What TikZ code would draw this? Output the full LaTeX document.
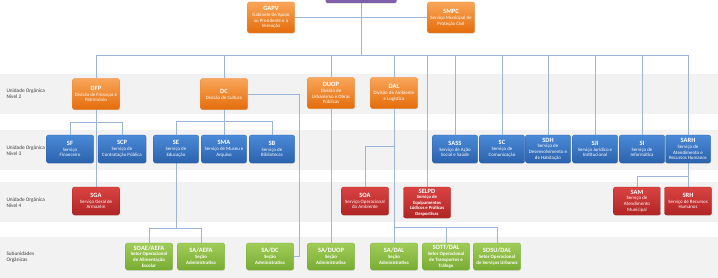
\documentclass[tikz,border=0pt]{standalone}
\usepackage{fontspec}
\setmainfont{Carlito}
\usetikzlibrary{backgrounds,shadows}
\definecolor{laranjaA}{HTML}{F9A65A}
\definecolor{laranjaB}{HTML}{E46C0A}
\definecolor{azulA}{HTML}{4A8AD8}
\definecolor{azulB}{HTML}{2B62AC}
\definecolor{vermA}{HTML}{DA4342}
\definecolor{vermB}{HTML}{B02525}
\definecolor{verdeA}{HTML}{A0CC58}
\definecolor{verdeB}{HTML}{79AC33}
\definecolor{roxo}{HTML}{7F5FA8}
\definecolor{ligacao}{HTML}{9BB5D8}
\definecolor{faixa}{HTML}{F2F2F2}
\definecolor{rotulo}{HTML}{404040}
\newcommand{\sigla}[1]{{\fontsize{6.5}{7.5}\selectfont\bfseries #1}}

\begin{document}
\begin{tikzpicture}[x=1pt,y=-1pt,
  every node/.style={font=\fontsize{4.9}{5.8}\selectfont, text=white},
  uo/.style={rounded corners=2pt, minimum width=47pt, minimum height=28pt, align=center, inner sep=1pt,
    drop shadow={opacity=0.25, shadow xshift=0.5pt, shadow yshift=-0.7pt}},
  div/.style={uo, minimum height=31pt, top color=laranjaA, bottom color=laranjaB, draw=laranjaB!80, line width=0.3pt},
  serv/.style={uo, minimum width=45pt, top color=azulA, bottom color=azulB, draw=azulB, line width=0.3pt},
  niv4/.style={uo, top color=vermA, bottom color=vermB, draw=vermB, line width=0.3pt},
  sub/.style={uo, minimum height=27pt, top color=verdeA, bottom color=verdeB, draw=verdeB, line width=0.3pt, font=\fontsize{4.9}{5.8}\selectfont\bfseries},
  lig/.style={draw=ligacao, line width=0.8pt},
  nivel/.style={text=rotulo, anchor=west, align=left, font=\fontsize{5.3}{6.3}\selectfont},
]
  \useasboundingbox (0,0) rectangle (718,278);

  \node[uo, fill=roxo, minimum width=71pt, minimum height=26pt] (pres) at (361,-10) {};
  \node[div] (GAPV) at (271,17.5) {\sigla{GAPV}\\Gabinete de Apoio\\ao Presidente e à\\Vereação};
  \node[div] (SMPC) at (451,17.5) {\sigla{SMPC}\\Serviço Municipal de\\Proteção Civil};

  \node[div] (DFP)  at (96,94)  {\sigla{DFP}\\Divisão de Finanças e\\Património};
  \node[div] (DC)   at (224,94) {\sigla{DC}\\Divisão de Cultura};
  \node[div] (DUOP) at (331,93) {\sigla{DUOP}\\Divisão de\\Urbanismo e Obras\\Públicas};
  \node[div] (DAL)  at (394,93) {\sigla{DAL}\\Divisão de Ambiente\\e Logística};

  \node[serv, minimum width=47pt] (SF)  at (70,149)  {\sigla{SF}\\Serviço\\Financeiro};
  \node[serv, minimum width=48pt] (SCP) at (122,149) {\sigla{SCP}\\Serviço de\\Contratação Pública};
  \node[serv] (SE)   at (176,149) {\sigla{SE}\\Serviço de\\Educação};
  \node[serv] (SMA)  at (224,149) {\sigla{SMA}\\Serviço de Museu e\\Arquivo};
  \node[serv] (SB)   at (272,149) {\sigla{SB}\\Serviço de\\Bibliotecas};
  \node[serv] (SASS) at (455,149) {\sigla{SASS}\\Serviço de Ação\\Social e Saúde};
  \node[serv] (SC)   at (502,149) {\sigla{SC}\\Serviço de\\Comunicação};
  \node[serv] (SDH)  at (548,149) {\sigla{SDH}\\Serviço de\\Desenvolvimento e\\de Habitação};
  \node[serv] (SJI)  at (595,149) {\sigla{SJI}\\Serviço Jurídico e\\Institucional};
  \node[serv] (SI)   at (642,149) {\sigla{SI}\\Serviço de\\Informática};
  \node[serv] (SARH) at (688,149) {\sigla{SARH}\\Serviço de\\Atendimento e\\Recursos Humanos};

  \node[niv4] (SGA)   at (96,201)  {\sigla{SGA}\\Serviço Geral de\\Armazém};
  \node[niv4] (SOA)   at (365,201) {\sigla{SOA}\\Serviço Operacional\\do Ambiente};
  \node[niv4, minimum height=31pt, font=\fontsize{4.7}{5.5}\selectfont\bfseries] (SELPD) at (427,202.5)
    {\sigla{SELPD}\\Serviço de\\Equipamentos\\Lúdicos e Práticas\\Desportivas};
  \node[niv4] (SAM)   at (637,201) {\sigla{SAM}\\Serviço de\\Atendimento\\Municipal};
  \node[niv4] (SRH)   at (688,201) {\sigla{SRH}\\Serviço de Recursos\\Humanos};

  \node[sub] (SOAE)   at (149,256.5) {\sigla{SOAE/AEFA}\\Setor Operacional\\de Alimentação\\Escolar};
  \node[sub] (SAAEFA) at (201,256.5) {\sigla{SA/AEFA}\\Seção\\Administrativa};
  \node[sub] (SADC)   at (270,256.5) {\sigla{SA/DC}\\Seção\\Administrativa};
  \node[sub] (SADUOP) at (331,256.5) {\sigla{SA/DUOP}\\Seção\\Administrativa};
  \node[sub] (SADAL)  at (394,256.5) {\sigla{SA/DAL}\\Seção\\Administrativa};
  \node[sub] (SOTT)   at (446,256.5) {\sigla{SOTT/DAL}\\Setor Operacional\\de Transportes e\\Tráfego};
  \node[sub] (SOSU)   at (497,256.5) {\sigla{SOSU/DAL}\\Setor Operacional\\de Serviços Urbanos};

  \node[nivel] (n2)  at (3,94)  {Unidade Orgânica\\Nível 2};
  \node[nivel] (n3)  at (3,151) {Unidade Orgânica\\Nível 3};
  \node[nivel] (n4)  at (3,203) {Unidade Orgânica\\Nível 4};
  \node[nivel] (sub) at (3,257) {Subunidades\\Orgânicas};

  \begin{scope}[on background layer]
    \foreach \a/\b in {74/114, 130/170, 182/222, 237/278}
      \fill[faixa] (0,\a) rectangle (718,\b);

    \coordinate (barra) at (0,55);
    \coordinate (dcdesvio) at (299,0);
    \draw[lig] (pres.south) -- (pres.south |- barra);
    \draw[lig] (GAPV.east) -- (SMPC.west);
    \draw[lig] (DFP.north) -- (DFP.north |- barra) -- (SARH.north |- barra) -- (SARH.north);
    \foreach \n in {DC, DUOP, DAL, SELPD, SASS, SC, SDH, SJI, SI}
      \draw[lig] (\n.north) -- (\n.north |- barra);

    \draw[lig] (DFP.south) -- (SGA.north);
    \draw[lig] (SF.north) -- ++(0,-12) -| (SCP.north);

    \draw[lig] (DC.south) -- (SMA.north);
    \draw[lig] (SE.north) -- ++(0,-13) -| (SB.north);
    \draw[lig] (DC.east) -- (DC.east -| dcdesvio) |- (SADC.east);
    \draw[lig] (SOAE.north) -- ++(0,-14) coordinate (seb) -| (SAAEFA.north);
    \draw[lig] (SE.south) -- (SE.south |- seb);

    \draw[lig] (DUOP.south) -- (SADUOP.north);

    \draw[lig] (DAL.south) -- (SADAL.north);
    \draw[lig] (SOA.north) -- ++(0,-40) -| (DAL.south);
    \draw[lig] (SOSU.north) -- ++(0,-15) coordinate (dalb) -- (dalb -| DAL.south);
    \draw[lig] (SOTT.north) -- (SOTT.north |- dalb);

    \draw[lig] (SARH.south) -- (SRH.north);
    \draw[lig] (SAM.north) -- ++(0,-10) -| (SARH.south);
  \end{scope}
\end{tikzpicture}
\end{document}
